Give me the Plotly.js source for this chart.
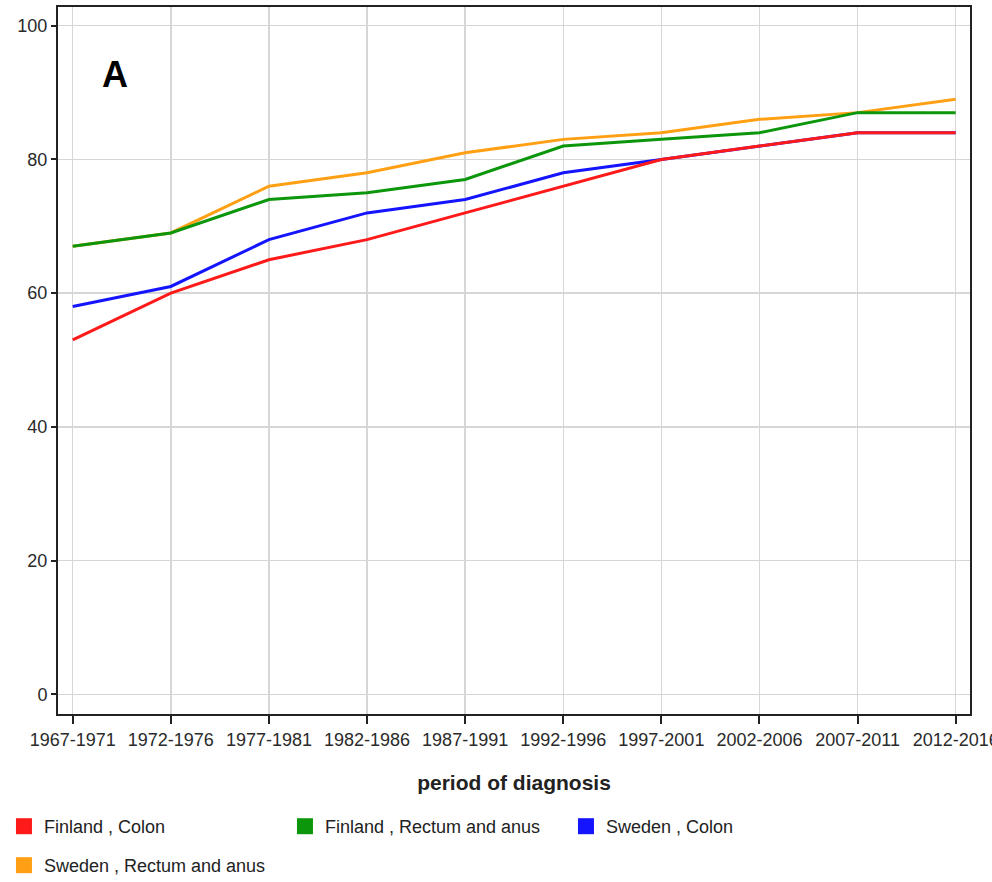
<!DOCTYPE html>
<html>
<head>
<meta charset="utf-8">
<script src="https://cdn.plot.ly/plotly-3.0.1.min.js"></script>
<style>html,body{margin:0;padding:0;background:#fff;}#chart{width:992px;height:882px;}</style>
</head>
<body>
<div id="chart"></div>
<script>
const periods = ["1967-1971","1972-1976","1977-1981","1982-1986","1987-1991","1992-1996","1997-2001","2002-2006","2007-2011","2012-2016"];
const finlandColon = [53, 60, 65, 68, 72, 76, 80, 82, 84, 84];
const finlandRectum = [67, 69, 74, 75, 77, 82, 83, 84, 87, 87];
const swedenColon = [58, 61, 68, 72, 74, 78, 80, 82, 84, 84];
const swedenRectum = [67, 69, 76, 78, 81, 83, 84, 86, 87, 89];
const seriesNames = ["Finland , Colon", "Finland , Rectum and anus", "Sweden , Colon", "Sweden , Rectum and anus"];
const seriesColors = ["#ff1a1a", "#0c960c", "#1414ff", "#ffa014"];
const yTicks = [0, 20, 40, 60, 80, 100];

const FONT = "'Liberation Sans', Arial, sans-serif";

const lineData = [
  {y: swedenRectum, i: 3},
  {y: swedenColon, i: 2},
  {y: finlandRectum, i: 1},
  {y: finlandColon, i: 0}
];
const traces = lineData.map(d => ({
  type: "scatter", mode: "lines", x: periods, y: d.y,
  name: seriesNames[d.i], showlegend: false,
  line: {color: seriesColors[d.i], width: 3}
}));
// legend entries (square swatches); first three in row one, the last in row two
seriesNames.forEach((n, i) => traces.push({
  type: "scatter", mode: "markers", x: [null], y: [null], name: n,
  marker: {symbol: "square", size: 16, color: seriesColors[i]},
  showlegend: true, hoverinfo: "skip",
  legend: i < 3 ? "legend" : "legend2"
}));

const legendBase = {
  orientation: "h", xref: "container", yref: "container",
  x: 0.004, xanchor: "left", yanchor: "top",
  entrywidth: 236, entrywidthmode: "pixels",
  font: {family: FONT, size: 18, color: "#222"},
  bgcolor: "rgba(0,0,0,0)", itemclick: false, itemdoubleclick: false
};

const layout = {
  width: 992, height: 882,
  margin: {l: 58, r: 22, t: 7, b: 168},
  paper_bgcolor: "#fff", plot_bgcolor: "#fff",
  font: {family: FONT, color: "#2a2a2a", size: 18},
  showlegend: true,
  xaxis: {
    type: "category", categoryorder: "array", categoryarray: periods,
    range: [-0.15, 9.146], tickangle: 0,
    showgrid: true, gridcolor: "#d6d6d6", gridwidth: 1.5,
    showline: true, linecolor: "#222", linewidth: 2, mirror: true,
    ticks: "outside", ticklen: 8, tickwidth: 2, tickcolor: "#222",
    tickfont: {family: FONT, size: 18, color: "#2a2a2a"},
    title: {text: "<b>period of diagnosis</b>", font: {family: FONT, size: 21, color: "#222"}, standoff: 27},
    zeroline: false, fixedrange: true
  },
  yaxis: {
    range: [-2.95, 102.8],
    tickvals: yTicks,
    showgrid: true, gridcolor: "#d6d6d6", gridwidth: 1.5,
    showline: true, linecolor: "#222", linewidth: 2, mirror: true,
    ticks: "outside", ticklen: 5, tickwidth: 2, tickcolor: "#222",
    tickfont: {family: FONT, size: 18, color: "#2a2a2a"},
    zeroline: false, fixedrange: true
  },
  legend: Object.assign({}, legendBase, {y: 0.0839}),
  legend2: Object.assign({}, legendBase, {y: 0.0397}),
  annotations: [{
    text: "<b>A</b>", xref: "paper", yref: "paper", x: 0.0625, y: 0.905,
    xanchor: "center", yanchor: "middle", showarrow: false,
    font: {family: FONT, size: 36, color: "#000"}
  }]
};

Plotly.newPlot("chart", traces, layout, {displayModeBar: false, staticPlot: true});
</script>
</body>
</html>
